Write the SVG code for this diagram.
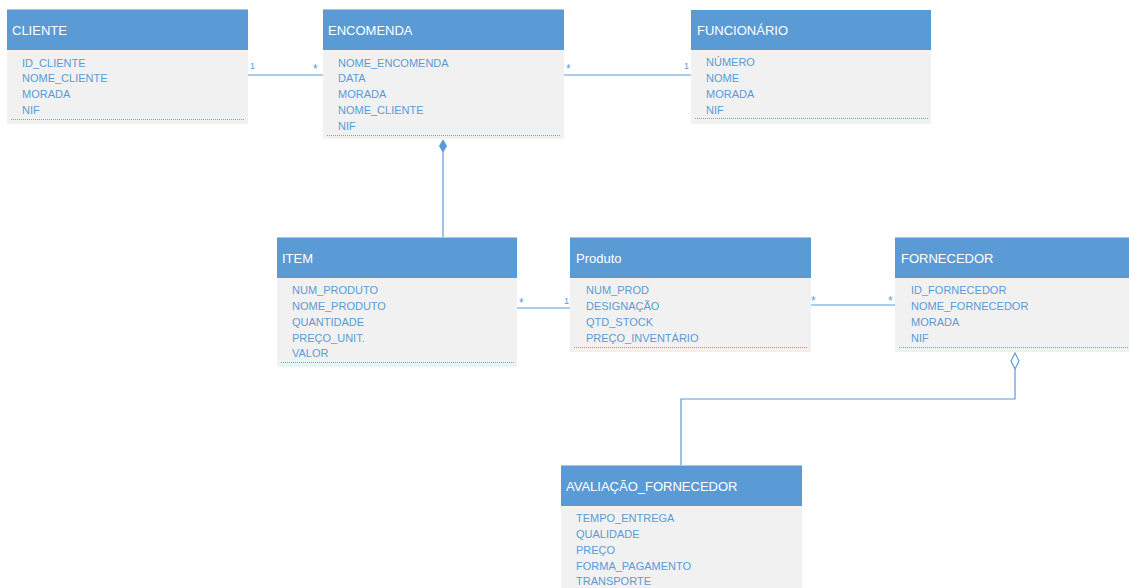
<svg xmlns="http://www.w3.org/2000/svg" width="1129" height="588" viewBox="0 0 1129 588">
<style>
.hdr{fill:#5B9BD5}
.top{stroke:#A9C9EA;stroke-width:1}
.body{fill:#F1F1F1}
.title{font-family:"Liberation Sans",Arial,sans-serif;font-size:13px;fill:#FFFFFF}
.attr{font-family:"Liberation Sans",Arial,sans-serif;font-size:11px;fill:#5B9BD5}
.dot{stroke:#6FA5DA;stroke-width:1;stroke-dasharray:1 1}
.con{fill:none;stroke:#5B9BD5;stroke-width:1.2}
.lbl{font-family:"Liberation Sans",Arial,sans-serif;font-size:9px;fill:#5B9BD5}
.ast{font-family:"Liberation Sans",Arial,sans-serif;font-size:12px;fill:#5B9BD5}
</style>
<rect width="1129" height="588" fill="#FFFFFF"/>
<g id="connectors">
<line class="con" x1="248" y1="75" x2="323" y2="75"/>
<text class="lbl" x="250" y="69">1</text>
<text class="ast" x="313" y="73">*</text>
<line class="con" x1="564" y1="75" x2="691" y2="75"/>
<text class="ast" x="566" y="73">*</text>
<text class="lbl" x="684" y="69">1</text>
<line class="con" x1="443" y1="152" x2="443" y2="237"/>
<path d="M443,140 L446.5,146 L443,152 L439.5,146 Z" fill="#5B9BD5" stroke="#5B9BD5" stroke-width="1"/>
<line class="con" x1="517" y1="308" x2="570" y2="308"/>
<text class="ast" x="519" y="307">*</text>
<text class="lbl" x="564" y="304">1</text>
<line class="con" x1="811" y1="305" x2="895" y2="305"/>
<text class="ast" x="811" y="305">*</text>
<text class="ast" x="888" y="305">*</text>
<path class="con" d="M1015,369 L1015,399 L681,399 L681,465"/>
<path d="M1015,353 L1019,361 L1015,369 L1011,361 Z" fill="#FFFFFF" stroke="#5B9BD5" stroke-width="1.2"/>
</g>
<g id="cliente">
<rect class="body" x="7" y="50" width="241" height="74"/>
<rect class="hdr" x="7" y="9" width="241" height="41"/>
<line class="top" x1="7" y1="9.5" x2="248" y2="9.5"/>
<text class="title" x="12" y="35">CLIENTE</text>
<text class="attr" x="22" y="67">ID_CLIENTE</text>
<text class="attr" x="22" y="82">NOME_CLIENTE</text>
<text class="attr" x="22" y="98">MORADA</text>
<text class="attr" x="22" y="114">NIF</text>
<line class="dot" x1="11" y1="119.5" x2="244" y2="119.5"/>
</g>
<g id="encomenda">
<rect class="body" x="323" y="50" width="241" height="89"/>
<rect class="hdr" x="323" y="9" width="241" height="41"/>
<line class="top" x1="323" y1="9.5" x2="564" y2="9.5"/>
<text class="title" x="328" y="35">ENCOMENDA</text>
<text class="attr" x="338" y="67">NOME_ENCOMENDA</text>
<text class="attr" x="338" y="82">DATA</text>
<text class="attr" x="338" y="98">MORADA</text>
<text class="attr" x="338" y="114">NOME_CLIENTE</text>
<text class="attr" x="338" y="130">NIF</text>
<line class="dot" x1="327" y1="135.5" x2="560" y2="135.5"/>
</g>
<g id="funcionario">
<rect class="body" x="691" y="50" width="240" height="74"/>
<rect class="hdr" x="691" y="10" width="240" height="40"/>
<text class="title" x="697" y="35">FUNCIONÁRIO</text>
<text class="attr" x="706" y="66">NÚMERO</text>
<text class="attr" x="706" y="82">NOME</text>
<text class="attr" x="706" y="98">MORADA</text>
<text class="attr" x="706" y="114">NIF</text>
<line class="dot" x1="695" y1="118.5" x2="928" y2="118.5"/>
</g>
<g id="item">
<rect class="body" x="277" y="278" width="240" height="89"/>
<rect class="hdr" x="277" y="237" width="240" height="41"/>
<line class="top" x1="277" y1="237.5" x2="517" y2="237.5"/>
<text class="title" x="282" y="263">ITEM</text>
<text class="attr" x="292" y="294">NUM_PRODUTO</text>
<text class="attr" x="292" y="310">NOME_PRODUTO</text>
<text class="attr" x="292" y="326">QUANTIDADE</text>
<text class="attr" x="292" y="342">PREÇO_UNIT.</text>
<text class="attr" x="292" y="357">VALOR</text>
<line class="dot" x1="281" y1="362.5" x2="514" y2="362.5"/>
</g>
<g id="produto">
<rect class="body" x="570" y="278" width="241" height="74"/>
<rect class="hdr" x="570" y="237" width="241" height="41"/>
<line class="top" x1="570" y1="237.5" x2="811" y2="237.5"/>
<text class="title" x="576" y="263">Produto</text>
<text class="attr" x="586" y="294">NUM_PROD</text>
<text class="attr" x="586" y="310">DESIGNAÇÃO</text>
<text class="attr" x="586" y="326">QTD_STOCK</text>
<text class="attr" x="586" y="342">PREÇO_INVENTÁRIO</text>
<line class="dot" x1="574" y1="347.5" x2="807" y2="347.5"/>
</g>
<g id="fornecedor">
<rect class="body" x="895" y="278" width="234" height="74"/>
<rect class="hdr" x="895" y="237" width="234" height="41"/>
<line class="top" x1="895" y1="237.5" x2="1129" y2="237.5"/>
<text class="title" x="901" y="263">FORNECEDOR</text>
<text class="attr" x="911" y="294">ID_FORNECEDOR</text>
<text class="attr" x="911" y="310">NOME_FORNECEDOR</text>
<text class="attr" x="911" y="326">MORADA</text>
<text class="attr" x="911" y="342">NIF</text>
<line class="dot" x1="899" y1="347.5" x2="1129" y2="347.5"/>
</g>
<g id="avaliacao_fornecedor">
<rect class="body" x="561" y="506" width="241" height="82"/>
<rect class="hdr" x="561" y="465" width="241" height="41"/>
<line class="top" x1="561" y1="465.5" x2="802" y2="465.5"/>
<text class="title" x="566" y="491">AVALIAÇÃO_FORNECEDOR</text>
<text class="attr" x="576" y="522">TEMPO_ENTREGA</text>
<text class="attr" x="576" y="538">QUALIDADE</text>
<text class="attr" x="576" y="554">PREÇO</text>
<text class="attr" x="576" y="570">FORMA_PAGAMENTO</text>
<text class="attr" x="576" y="585">TRANSPORTE</text>
</g>
</svg>
